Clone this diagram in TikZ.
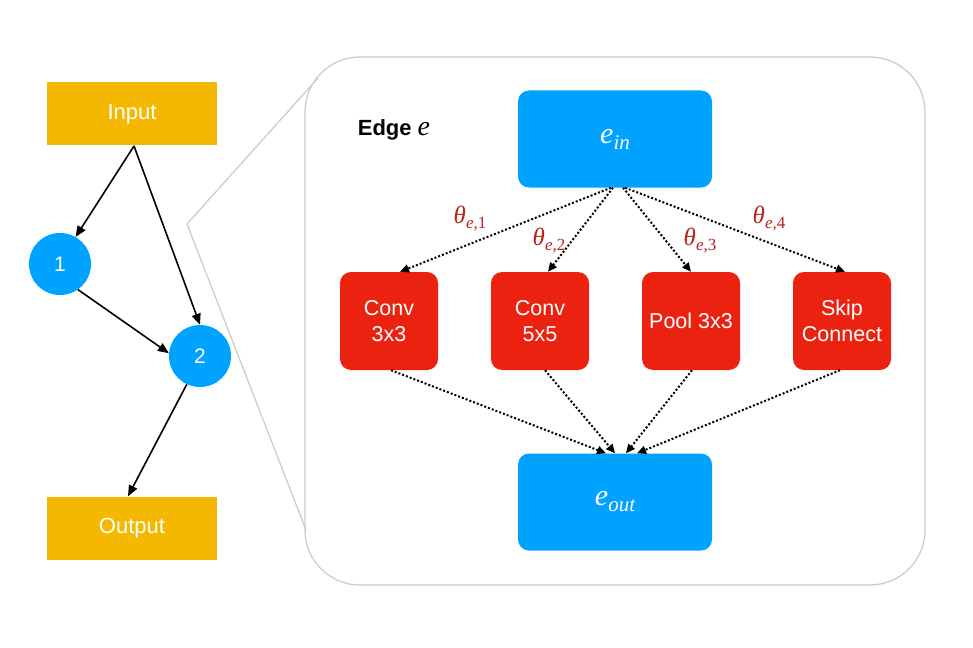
\documentclass[tikz,border=0pt]{standalone}
\usepackage{fontspec}
\setmainfont{Liberation Sans}
\newfontfamily\tnr{Liberation Serif}
\usetikzlibrary{arrows.meta}
\definecolor{gold}{RGB}{245,184,0}
\definecolor{skyb}{RGB}{0,162,255}
\definecolor{opred}{RGB}{236,34,16}
\definecolor{thred}{RGB}{185,35,25}
\definecolor{framegray}{RGB}{205,205,205}
\newcommand{\bigsub}[2]{{\tnr\itshape\fontsize{30}{30}\selectfont #1\raisebox{-6pt}{\fontsize{21}{21}\selectfont #2}}}
\newcommand{\thsub}[1]{{\tnr\itshape\fontsize{25}{25}\selectfont θ\raisebox{-5pt}{\fontsize{17}{17}\selectfont e{\upshape ,#1}}}}
\begin{document}
\begin{tikzpicture}[x=1pt,y=-1pt,
  iobox/.style={fill=gold,minimum width=170pt,minimum height=63pt,inner sep=0pt,text=white,font=\fontsize{22}{22}\selectfont},
  gnode/.style={circle,fill=skyb,minimum size=62pt,inner sep=0pt,text=white,font=\fontsize{21}{21}\selectfont},
  bluebox/.style={fill=skyb,rounded corners=11pt,minimum width=194pt,minimum height=97pt,inner sep=0pt,text=white},
  opbox/.style={fill=opred,rounded corners=11pt,minimum width=98pt,minimum height=98pt,inner sep=0pt,text=white,align=center,font=\fontsize{21.5}{26}\selectfont},
  solidarr/.style={draw=black,line width=1.6pt,-{Triangle[length=11pt,width=9pt]}},
  dotarr/.style={draw=black,line width=2pt,dotted,-{Triangle[length=9pt,width=8pt]}},
  thlab/.style={text=thred,inner sep=0pt}
]
\useasboundingbox (0,0) rectangle (973,647);
% left graph
\node[iobox] (inp) at (132,114) {Input};
\node[iobox] (out) at (132,528) {Output};
\node[gnode] (n1) at (60,264) {1};
\node[gnode] (n2) at (200,356) {2};
\coordinate (inb) at (134,146);
\draw[solidarr] (inb) -- (n1.60);
\draw[solidarr] (inb) -- (n2.north);
\draw[solidarr] (n1.-55) -- (n2.175);
\draw[solidarr] (n2.-115) -- ([xshift=-4pt]out.north);
% frame
\node[draw=framegray,line width=1.3pt,rounded corners=55pt,minimum width=620pt,minimum height=528pt,inner sep=0pt] (frm) at (615,321) {};
\coordinate (zt) at (318,78);
\coordinate (zm) at (187,224);
\coordinate (zb) at (306,530);
\draw[framegray,line width=1.3pt] (zt) -- (zm) -- (zb);
% edge content
\node[font=\fontsize{22}{22}\selectfont] (elab) at (394,130) {{\bfseries Edge} {\tnr\itshape\fontsize{28}{28}\selectfont e}};
\node[bluebox] (ein) at (615,139) {\bigsub{e}{in}};
\node[bluebox] (eout) at (615,502) {\bigsub{e}{out}};
\node[opbox] (o1) at (389,321) {Conv\\3x3};
\node[opbox] (o2) at (540,321) {Conv\\5x5};
\node[opbox] (o3) at (691,321) {Pool 3x3};
\node[opbox] (o4) at (842,321) {Skip\\Connect};
\draw[dotarr] ([xshift=-4pt]ein.south) -- ([xshift=11pt]o1.north);
\draw[dotarr] ([xshift=-2pt]ein.south) -- ([xshift=8pt]o2.north);
\draw[dotarr] ([xshift=8pt]ein.south) -- ([xshift=0pt]o3.north);
\draw[dotarr] ([xshift=10pt]ein.south) -- ([xshift=3pt]o4.north);
\draw[dotarr] ([xshift=2pt]o1.south) -- ([xshift=-9pt]eout.north);
\draw[dotarr] ([xshift=5pt]o2.south) -- ([xshift=0pt]eout.north);
\draw[dotarr] ([xshift=1pt]o3.south) -- ([xshift=11pt]eout.north);
\draw[dotarr] ([xshift=-2pt]o4.south) -- ([xshift=22pt]eout.north);
\node[thlab] (t1) at (470,219) {\thsub{1}};
\node[thlab] (t2) at (549,241) {\thsub{2}};
\node[thlab] (t3) at (700,241) {\thsub{3}};
\node[thlab] (t4) at (769,219) {\thsub{4}};
\end{tikzpicture}
\end{document}
